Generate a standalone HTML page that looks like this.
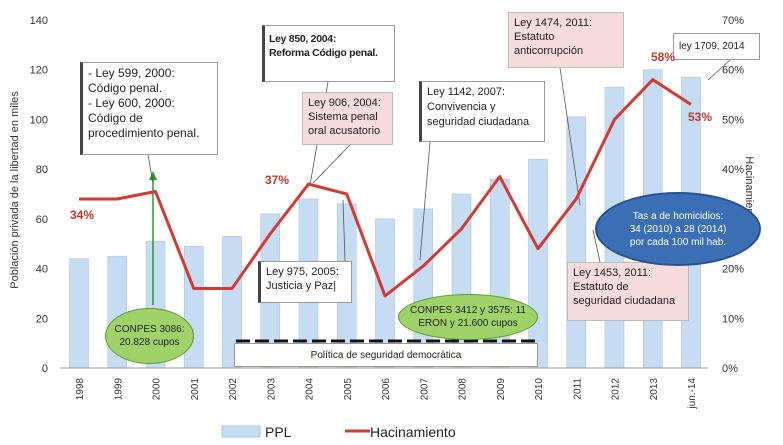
<!DOCTYPE html>
<html><head><meta charset="utf-8">
<style>
body{margin:0;background:#fff;font-family:"Liberation Sans",sans-serif;}
#wrap{position:relative;width:783px;height:445px;overflow:hidden;}
.box{position:absolute;background:#fff;border:1px solid #999;border-left:3px solid #444;font-size:11px;line-height:14px;padding:3px 5px;box-sizing:border-box;color:#222;}
.pink{background:#f6dcdc;border:1px solid #bbb;}
.ell{position:absolute;border-radius:50%;display:flex;align-items:center;justify-content:center;text-align:center;font-size:10px;line-height:13px;}
.pct{position:absolute;color:#c0392b;font-weight:bold;font-size:12px;}
</style></head><body>
<div id="wrap">
<svg id="chart" width="783" height="445" style="position:absolute;left:0;top:0"></svg>

<div class="box" style="left:80px;top:62px;width:138px;height:93px;font-size:12px;line-height:15px">- Ley 599, 2000:<br>Código penal.<br>- Ley 600, 2000:<br>Código de<br>procedimiento penal.</div>
<div class="box" style="left:262px;top:25px;width:133px;height:57px;font-weight:bold;font-size:10.5px;letter-spacing:-0.3px;white-space:nowrap;padding:6px 4px">Ley 850, 2004:<br>Reforma Código penal.</div>
<div class="box pink" style="left:302px;top:92px;width:91px;height:53px">Ley 906, 2004:<br>Sistema penal<br>oral acusatorio</div>
<div class="box" style="left:419px;top:81px;width:126px;height:61px;line-height:15px">Ley 1142, 2007:<br>Convivencia y<br>seguridad ciudadana</div>
<div class="box pink" style="left:508px;top:12px;width:116px;height:56px">Ley 1474, 2011:<br>Estatuto<br>anticorrupción</div>
<div class="box" style="left:673px;top:33px;width:87px;height:27px;font-size:10px;border-left:1px solid #999;padding-top:6px">ley 1709, 2014</div>
<div class="box" style="left:258px;top:261px;width:94px;height:42px">Ley 975, 2005:<br>Justicia y Paz|</div>
<div class="box pink" style="left:567px;top:262px;width:122px;height:59px;border-left:1px solid #bbb">Ley 1453, 2011:<br>Estatuto de<br>seguridad ciudadana</div>
<div class="ell" style="left:595px;top:192px;width:162px;height:70px;background:#3a6fb5;border:2px solid #2a528a;color:#fff">Tas a de homicidios:<br>34 (2010) a 28 (2014)<br>por cada 100 mil hab.</div>
<div class="ell" style="left:105px;top:308px;width:87px;height:54px;background:#9fd36a;border:1px solid #5a9a2a;color:#222">CONPES 3086:<br>20.828 cupos</div>
<div class="ell" style="left:398px;top:294px;width:138px;height:44px;background:#9fd36a;border:1px solid #5a9a2a;color:#222">CONPES 3412 y 3575: 11<br>ERON y 21.600 cupos</div>
<div class="box" style="left:234px;top:343px;width:304px;height:24px;border-left:1px solid #999;text-align:center;font-size:10px;padding-top:5px">Política de seguridad democrática</div>

<div class="pct" style="left:70px;top:208px">34%</div>
<div class="pct" style="left:265px;top:173px">37%</div>
<div class="pct" style="left:651px;top:50px">58%</div>
<div class="pct" style="left:688px;top:110px">53%</div>
</div>
<script>
const categories=["1998","1999","2000","2001","2002","2003","2004","2005","2006","2007","2008","2009","2010","2011","2012","2013","jun.-14"];
const pplValues=[44,45,51,49,53,62,68,66,60,64,70,76,84,101,113,120,117];
const hacValues=[34,34,35.5,16,16,27,37,35,14.5,20.5,28,38.5,24,34,50,58,53];
const leftTicks=[0,20,40,60,80,100,120,140];
const rightTicks=[0,10,20,30,40,50,60,70];
const NS="http://www.w3.org/2000/svg";
const svg=document.getElementById('chart');
const y0=368,yTop=20;
const yL=v=>y0-(v/140)*(y0-yTop);
const yR=v=>y0-(v/70)*(y0-yTop);
const xC=i=>79+i*38.25;
function mk(t,a){const e=document.createElementNS(NS,t);for(const k in a)e.setAttribute(k,a[k]);svg.appendChild(e);return e;}
pplValues.forEach((v,i)=>{
 const r=mk('rect',{x:xC(i)-9.5,y:yL(v),width:19,height:y0-yL(v),fill:'#c5dcf3',stroke:'#a9c6e6','stroke-width':0.6});
 
 
});
const ax=mk('line',{x1:60,y1:y0,x2:708,y2:y0,stroke:'#999','stroke-width':1});


const pl=mk('line',{x1:236,y1:341,x2:538,y2:341,stroke:'#111','stroke-width':3,'stroke-dasharray':'14 5'});


leftTicks.forEach(t=>{
 const e=mk('text',{x:48,y:yL(t)+4,'text-anchor':'end','font-size':11,fill:'#333'});e.textContent=t;
 
 
});
rightTicks.forEach(t=>{
 const e=mk('text',{x:722,y:yR(t)+4,'font-size':11,fill:'#333'});e.textContent=t+'%';
 
 
});
categories.forEach((c,i)=>{
 const e=mk('text',{x:0,y:0,'text-anchor':'end','font-size':10,fill:'#333',transform:`translate(${xC(i)+4},378) rotate(-90)`});e.textContent=c;
 
 
});
const lt=mk('text',{x:0,y:0,'text-anchor':'middle','font-size':11,fill:'#333',transform:'translate(18,190) rotate(-90)'});lt.textContent='Población privada de la libertad en miles';


const rt=mk('text',{x:0,y:0,'text-anchor':'middle','font-size':11,fill:'#333',transform:'translate(746,190) rotate(90)'});rt.textContent='Hacinamiento';


const ga=mk('line',{x1:153,y1:305,x2:153,y2:178,stroke:'#2a9a2a','stroke-width':1.5});


const gh=mk('polygon',{points:'149,180 157,180 153,171',fill:'#2a9a2a'});


[[148,155,153,183],[328,82,310,185],[350,145,313,183],[345,261,343,200],[430,142,420,260],[560,68,580,205],[730,60,708,80],[600,262,593,230]].forEach(p=>{
 const l=mk('line',{x1:p[0],y1:p[1],x2:p[2],y2:p[3],stroke:'#555','stroke-width':0.8});
 
 
});
const pts=hacValues.map((v,i)=>xC(i)+','+yR(v)).join(' ');
const pl2=mk('polyline',{points:pts,fill:'none',stroke:'#d33a32','stroke-width':3,'stroke-linejoin':'round'});


const lr=mk('rect',{x:222,y:426,width:38,height:11,fill:'#c5dcf3',stroke:'#a9c6e6'});


const lx=mk('text',{x:265,y:437,'font-size':14,fill:'#222'});lx.textContent='PPL';


const ll=mk('line',{x1:345,y1:431,x2:370,y2:431,stroke:'#d33a32','stroke-width':3});


const lh=mk('text',{x:370,y:437,'font-size':14,fill:'#222'});lh.textContent='Hacinamiento';


</script>
</body></html>
